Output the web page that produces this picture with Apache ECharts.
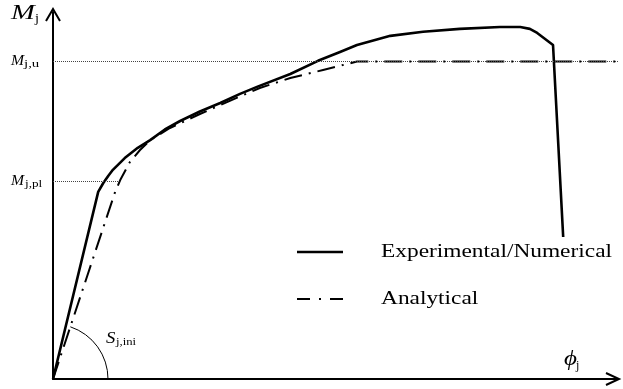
<!DOCTYPE html>
<html>
<head>
<meta charset="utf-8">
<script src="https://cdn.jsdelivr.net/npm/echarts@6/dist/echarts.min.js"></script>
<style>
  html, body { margin: 0; padding: 0; background: #fff; }
  #main { width: 623px; height: 389px; }
</style>
</head>
<body>
<div id="main"></div>
<script>
// Joint rotation φj and moment Mj (normalised units, 0–100 on both axes)
const expRotation = [0, 8.0, 8.9, 9.8, 10.6, 12.7, 15.0, 17.2, 19.8, 22.5, 26.0, 29.6, 33.1, 36.1, 42.0, 46.9, 50.8, 53.8, 57.0, 59.7, 65.5, 72.0, 79.1, 82.7, 84.4, 85.7, 88.5, 90.3];
const expMoment   = [0, 51.0, 53.4, 55.4, 57.0, 60.2, 63.0, 65.1, 68.0, 70.3, 72.9, 75.2, 77.7, 79.6, 83.1, 86.7, 89.1, 91.0, 92.4, 93.5, 94.6, 95.4, 95.9, 95.9, 95.4, 94.3, 91.0, 38.7];

const anaRotation = [0, 11.0, 11.9, 13.6, 15.4, 17.2, 20.7, 26.0, 31.3, 36.6, 42.0, 47.8, 53.8, 100];
const anaMoment   = [0, 51.0, 54.2, 59.1, 62.4, 65.1, 68.4, 72.2, 75.8, 79.3, 82.0, 84.2, 86.5, 86.5];

const momentUltimate = 86.5;    // Mj,u
const momentPlastic = 54.0;     // Mj,pl
const rotationAtPlastic = 11.7; // where the analytical curve reaches Mj,pl

const seriesNames = ['Experimental/Numerical', 'Analytical'];

const SERIF = '"Liberation Serif", "Times New Roman", serif';
const DASH_DOT = [18, 7, 2, 7];

const chart = echarts.init(document.getElementById('main'), null, { renderer: 'canvas' });

const zip = (xs, ys) => xs.map((x, i) => [x, ys[i]]);

const axisCommon = {
  type: 'value',
  min: 0,
  max: 100,
  axisLine: { show: true, onZero: false, lineStyle: { color: '#000', width: 2 } },
  axisTick: { show: false },
  axisLabel: { show: false },
  splitLine: { show: false }
};

chart.setOption({
  animation: false,
  backgroundColor: '#fff',
  grid: { left: 53, right: 5, top: 12, bottom: 10 },
  xAxis: axisCommon,
  yAxis: axisCommon,
  series: [
    {
      name: seriesNames[0],
      type: 'line',
      data: zip(expRotation, expMoment),
      showSymbol: false,
      smooth: false,
      z: 4,
      lineStyle: { color: '#000', width: 2.6, join: 'round' }
    },
    {
      name: seriesNames[1],
      type: 'line',
      data: zip(anaRotation, anaMoment),
      showSymbol: false,
      smooth: false,
      z: 3,
      lineStyle: { color: '#000', width: 2, type: DASH_DOT, cap: 'butt' },
      markLine: {
        silent: true,
        symbol: 'none',
        label: { show: false },
        lineStyle: { color: '#444', width: 1, type: [1, 1] },
        data: [
          [{ coord: [0, momentUltimate] }, { coord: [100, momentUltimate] }],
          [{ coord: [0, momentPlastic] }, { coord: [rotationAtPlastic, momentPlastic] }]
        ]
      }
    }
  ]
});

const px = (x, y) => chart.convertToPixel({ gridIndex: 0 }, [x, y]);
const [ox, oy] = px(0, 0);
const [xEnd] = px(100, 0);
const [, yTop] = px(0, 100);

// italic symbol with an upright subscript
function symbolLabel(left, midY, main, sub, mainSize, subSize, subLeft, subMidY, mainScale, subScale) {
  return [
    {
      type: 'text', x: left, y: midY, scaleX: mainScale, silent: true,
      style: { text: main, x: 0, y: 0, fontFamily: SERIF, fontStyle: 'italic', fontSize: mainSize, fill: '#000', align: 'left', verticalAlign: 'middle' }
    },
    {
      type: 'text', x: subLeft, y: subMidY, scaleX: subScale, silent: true,
      style: { text: sub, x: 0, y: 0, fontFamily: SERIF, fontSize: subSize, fill: '#000', align: 'left', verticalAlign: 'middle' }
    }
  ];
}

const [, yU] = px(0, momentUltimate);
const [, yP] = px(0, momentPlastic);

// initial stiffness angle of the analytical curve
const [ax1, ay1] = px(anaRotation[1], anaMoment[1]);
const stiffAngle = Math.atan2(ay1 - oy, ax1 - ox);

const legendX = 297, legendTextX = 381;
const legendY = [252, 299];

const graphics = [
  // arrow heads
  { type: 'polyline', silent: true, shape: { points: [[ox - 7, yTop + 9], [ox, yTop - 3], [ox + 7, yTop + 9]] }, style: { stroke: '#000', lineWidth: 2, fill: null } },
  { type: 'polyline', silent: true, shape: { points: [[xEnd - 12, oy - 6], [xEnd + 1, oy], [xEnd - 12, oy + 6]] }, style: { stroke: '#000', lineWidth: 2, fill: null } },
  // initial stiffness arc
  { type: 'arc', silent: true, shape: { cx: ox, cy: oy, r: 55, startAngle: stiffAngle, endAngle: 0, clockwise: true }, style: { stroke: '#000', lineWidth: 1, fill: null } },
  // legend samples
  { type: 'line', silent: true, shape: { x1: legendX, y1: legendY[0], x2: legendX + 46, y2: legendY[0] }, style: { stroke: '#000', lineWidth: 2.6 } },
  { type: 'line', silent: true, shape: { x1: legendX, y1: legendY[1], x2: legendX + 46, y2: legendY[1] }, style: { stroke: '#000', lineWidth: 2, lineDash: [13, 9, 2, 9] } },
  ...seriesNames.map((name, i) => ({
    type: 'text', x: legendTextX, y: legendY[i], scaleX: 1.23, silent: true,
    style: { text: name, x: 0, y: 0, fontFamily: SERIF, fontSize: 19, fill: '#000', align: 'left', verticalAlign: 'middle' }
  })),
  // axis names
  ...symbolLabel(11, 13, 'M', 'j', 22, 13, 35, 19, 1.3, 1.1),
  ...symbolLabel(564, 360, 'ϕ', 'j', 20, 12, 576, 366, 1.25, 1.0),
  // characteristic moments and stiffness
  ...symbolLabel(11, yU, 'M', 'j,u', 14, 11, 24, yU + 3, 1.12, 1.35),
  ...symbolLabel(11, yP, 'M', 'j,pl', 14, 11, 25, yP + 3, 1.12, 1.2),
  ...symbolLabel(106, 339, 'S', 'j,ini', 17, 11, 116, 342, 1.1, 1.15)
];

chart.setOption({ graphic: graphics });
</script>
</body>
</html>
